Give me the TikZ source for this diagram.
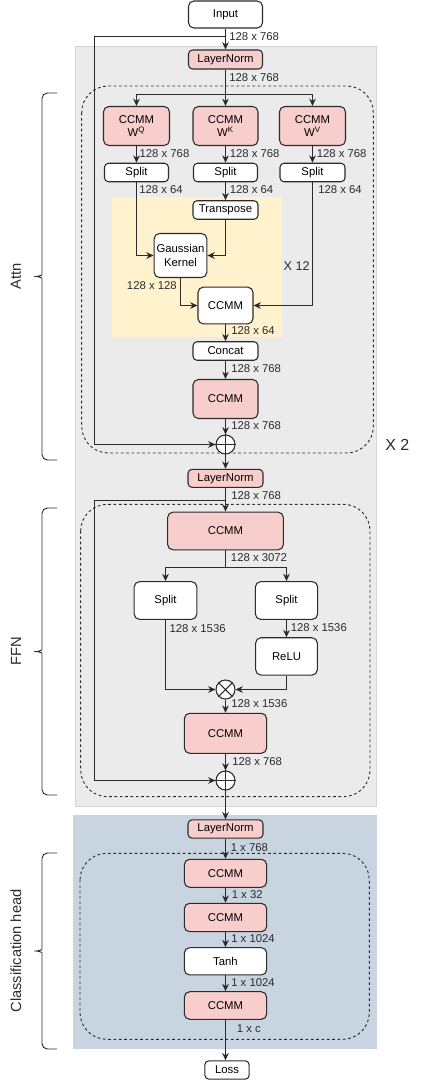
\documentclass[tikz,border=0pt]{standalone}
\usepackage{fontspec}
\setmainfont{Liberation Sans}
\usetikzlibrary{arrows.meta}
\definecolor{ccmmred}{HTML}{F8CECC}
\definecolor{graybg}{HTML}{EBEBEC}
\definecolor{grayedge}{HTML}{D4D4D4}
\definecolor{yellowbg}{HTML}{FFF2CC}
\definecolor{bluebg}{HTML}{C8D4E0}
\definecolor{linegray}{HTML}{2B2B2B}

\begin{document}
\begin{tikzpicture}[x=0.75pt,y=-0.75pt,
  line/.style={draw=linegray, line width=0.8pt},
  arr/.style={line, -{Stealth[length=5.5pt,width=5pt]}},
  blk/.style 2 args={draw=linegray, line width=0.8pt, rounded corners=3pt, fill=white,
    font=\fontsize{8.5}{10}\selectfont, align=center, inner sep=0pt,
    minimum width=#1*0.75pt, minimum height=#2*0.75pt},
  redblk/.style 2 args={blk={#1}{#2}, fill=ccmmred},
  dimlbl/.style={anchor=west, inner sep=0pt, font=\fontsize{8.5}{10}\selectfont, text=linegray},
  opnode/.style={circle, draw=linegray, line width=0.8pt, fill=white, minimum size=19*0.75pt, inner sep=0pt},
  dashbox/.style={draw=linegray, line width=0.7pt, dash pattern=on 2pt off 2pt, rounded corners=20pt},
  sidelbl/.style={rotate=90, font=\fontsize{11}{13}\selectfont, text=linegray, inner sep=0pt}]
\useasboundingbox (0,0) rectangle (425,1081);

% backgrounds
\filldraw[fill=graybg, draw=grayedge, line width=0.6pt] (75,46) rectangle (376.7,806.7);
\fill[yellowbg] (111.7,196.7) rectangle (281.7,337.3);
\draw[dashbox] (81.7,86) rectangle (373.3,453);
\draw[dashbox] (80.7,504.3) rectangle (370,796.7);
\fill[bluebg] (73.3,815) rectangle (376.7,1049.3);
\draw[dashbox] (80,853.3) rectangle (369.3,1039.3);

% attention
\node[blk={74}{27}, rounded corners=4pt] (input) at (225.5,14.5) {Input};
\node[redblk={74}{19}] (ln1) at (225.5,59.5) {LayerNorm};
\node[redblk={66}{39}, rounded corners=4pt] (wq) at (136.5,126) {CCMM\\W\textsuperscript{Q}};
\node[redblk={65}{39}, rounded corners=4pt] (wk) at (225.5,126) {CCMM\\W\textsuperscript{K}};
\node[redblk={66}{39}, rounded corners=4pt] (wv) at (312.5,126) {CCMM\\W\textsuperscript{V}};
\node[blk={64}{18.5}] (sq) at (136.5,172.5) {Split};
\node[blk={64}{18.5}] (sk) at (225.5,172.5) {Split};
\node[blk={65}{18.5}] (sv) at (312.5,172.5) {Split};
\node[blk={65}{18.5}] (tr) at (225.5,210) {Transpose};
\node[blk={52.7}{44}, rounded corners=4pt] (gk) at (180.5,255.5) {Gaussian\\Kernel};
\node[blk={55}{36.7}, rounded corners=4pt] (cc) at (225.5,305.5) {CCMM};
\node[blk={65}{18.5}] (cat) at (225.5,351) {Concat};
\node[redblk={65}{39}, rounded corners=4pt] (co) at (225.5,399) {CCMM};
\node[opnode] (add1) at (225.5,444.5) {};
\draw[line] (add1.north) -- (add1.south) (add1.west) -- (add1.east);

\coordinate (skipA) at (225.5,36.5);
\coordinate (skipAL) at (94.5,36.5);
\coordinate (fork1) at (225.5,94.5);
\draw[arr] (input) -- (ln1);
\draw[arr] (skipA) -- (skipAL) |- (add1);
\draw[arr] (ln1) -- (wk);
\draw[arr] (fork1) -| (wq);
\draw[arr] (fork1) -| (wv);
\draw[arr] (wq) -- (sq);
\draw[arr] (wk) -- (sk);
\draw[arr] (wv) -- (sv);
\draw[arr] (sk) -- (tr);
\draw[arr] (sq) |- (gk);
\draw[arr] (tr) |- (gk);
\draw[arr] (gk) |- (cc);
\draw[arr] (sv) |- (cc);
\draw[arr] (cc) -- (cat);
\draw[arr] (cat) -- (co);
\draw[arr] (co) -- (add1);

\node[dimlbl] (d1) at (229,36.7) {128 x 768};
\node[dimlbl] (d2) at (229,77.7) {128 x 768};
\node[dimlbl] (d3) at (139.3,153.7) {128 x 768};
\node[dimlbl] (d4) at (229.5,153.7) {128 x 768};
\node[dimlbl] (d5) at (316.5,153.7) {128 x 768};
\node[dimlbl] (d6) at (139,189.3) {128 x 64};
\node[dimlbl] (d7) at (229.5,189.3) {128 x 64};
\node[dimlbl] (d8) at (318,189.3) {128 x 64};
\node[dimlbl] (d9) at (126.7,286) {128 x 128};
\node[dimlbl, font=\fontsize{9.5}{11}\selectfont] (rep12) at (283.3,266) {X 12};
\node[dimlbl] (d10) at (231,331) {128 x 64};
\node[dimlbl] (d11) at (231,369) {128 x 768};
\node[dimlbl] (d12) at (231,425.3) {128 x 768};
\node[dimlbl, font=\fontsize{12}{14}\selectfont] (rep2) at (385,445) {X 2};

% feed-forward
\node[redblk={75}{18}] (ln2) at (225.5,478.3) {LayerNorm};
\node[redblk={115.7}{37.7}, rounded corners=4pt] (f1) at (225.5,531) {CCMM};
\node[blk={62.7}{37.7}, rounded corners=4pt] (fs1) at (165.5,600.5) {Split};
\node[blk={62.3}{37.7}, rounded corners=4pt] (fs2) at (286.5,600.5) {Split};
\node[blk={61.7}{37.3}, rounded corners=4pt] (relu) at (286.5,656.4) {ReLU};
\node[opnode] (mul) at (225.5,689.5) {};
\draw[line] (mul.north west) -- (mul.south east) (mul.north east) -- (mul.south west);
\node[redblk={82.3}{40}, rounded corners=4pt] (f2) at (225.5,733.3) {CCMM};
\node[opnode] (add2) at (225.5,780.5) {};
\draw[line] (add2.north) -- (add2.south) (add2.west) -- (add2.east);

\coordinate (skipB) at (225.5,500.5);
\coordinate (skipBL) at (94.5,500.5);
\coordinate (fork2) at (225.5,567.5);
\draw[arr] (add1) -- (ln2);
\draw[arr] (ln2) -- (f1);
\draw[arr] (skipB) -- (skipBL) |- (add2);
\draw[line] (f1) -- (fork2);
\draw[arr] (fork2) -| (fs1);
\draw[arr] (fork2) -| (fs2);
\draw[arr] (fs2) -- (relu);
\draw[arr] (fs1) |- (mul);
\draw[arr] (relu) |- (mul);
\draw[arr] (mul) -- (f2);
\draw[arr] (f2) -- (add2);

\node[dimlbl] (d13) at (231,495.7) {128 x 768};
\node[dimlbl] (d14) at (230.7,557.7) {128 x 3072};
\node[dimlbl] (d15) at (169.3,629) {128 x 1536};
\node[dimlbl] (d16) at (290.5,627.7) {128 x 1536};
\node[dimlbl] (d17) at (231,704) {128 x 1536};
\node[dimlbl] (d18) at (232,761.7) {128 x 768};

% classification head
\node[redblk={75}{18.3}] (ln3) at (225.5,829) {LayerNorm};
\node[redblk={82.3}{28}, rounded corners=4pt] (h1) at (225.5,873.3) {CCMM};
\node[redblk={82.3}{28.4}, rounded corners=4pt] (h2) at (225.5,917.5) {CCMM};
\node[blk={82.3}{27.3}, rounded corners=4pt] (tanh) at (225.5,961.3) {Tanh};
\node[redblk={82.3}{27.6}, rounded corners=4pt] (h3) at (225.5,1005.5) {CCMM};
\node[blk={44.4}{18.3}] (loss) at (227,1070) {Loss};

\draw[arr] (add2) -- (ln3);
\draw[arr] (ln3) -- (h1);
\draw[arr] (h1) -- (h2);
\draw[arr] (h2) -- (tanh);
\draw[arr] (tanh) -- (h3);
\draw[arr] (h3) -- (loss.north -| h3.south);

\node[dimlbl] (d19) at (230.5,847.3) {1 x 768};
\node[dimlbl] (d20) at (231.5,894.3) {1 x 32};
\node[dimlbl] (d21) at (231,939) {1 x 1024};
\node[dimlbl] (d22) at (231,982.7) {1 x 1024};
\node[dimlbl] (d23) at (236.7,1028.3) {1 x c};

% braces
\foreach \ya/\yb/\txt [count=\i] in {93/460/Attn, 508/795/FFN, 853/1049/Classification head}{
  \pgfmathsetmacro\ym{(\ya+\yb)/2}
  \draw[line, line width=0.7pt, rounded corners=4pt] (57,\ya) -- (42,\ya) -- (42,\ym-7)
    .. controls (42,\ym-1) and (37,\ym) .. (31,\ym)
    .. controls (37,\ym) and (42,\ym+1) .. (42,\ym+7) -- (42,\yb) -- (57,\yb);
  \node[sidelbl] (side\i) at (16,\ym) {\txt};
}
\end{tikzpicture}
\end{document}
